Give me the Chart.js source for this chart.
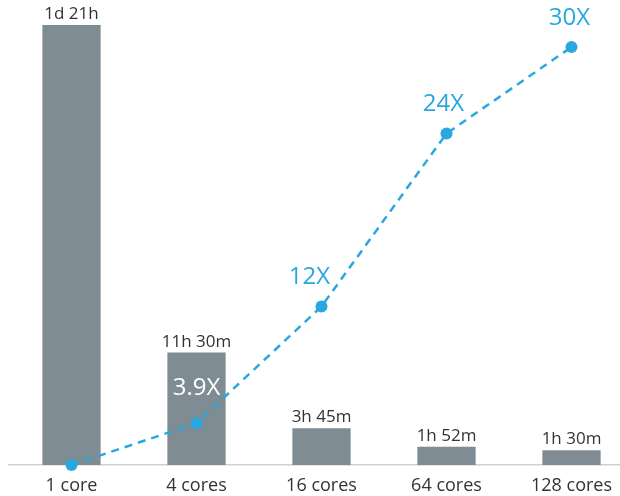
<!DOCTYPE html>
<html>
<head>
<meta charset="utf-8">
<script src="https://cdn.jsdelivr.net/npm/chart.js@4"></script>
<style>
  html, body { margin: 0; padding: 0; background: #fff; overflow: hidden; }
  #wrap { width: 640px; height: 496px; }
</style>
</head>
<body>
<div id="wrap"><canvas id="coresChart" width="640" height="496"></canvas></div>
<script>
// data
const cores = ['1 core', '4 cores', '16 cores', '64 cores', '128 cores'];
const runMinutes = [2700, 690, 225, 112, 90];
const runLabels = ['1d 21h', '11h 30m', '3h 45m', '1h 52m', '1h 30m'];
const speedup = [1, 3.9, 12, 24, 30];
const speedupLabels = ['', '3.9X', '12X', '24X', '30X'];

const BAR = '#7f8c93';
const BLUE = '#29a8df';
const FONT = '"Open Sans", "Noto Sans", sans-serif';

// value labels over bars and points
const labelPlugin = {
  id: 'labels',
  afterDatasetsDraw(chart) {
    const ctx = chart.ctx;
    ctx.save();
    ctx.textAlign = 'center';

    ctx.font = '17px ' + FONT;
    ctx.fillStyle = '#333';
    ctx.textBaseline = 'alphabetic';
    chart.getDatasetMeta(1).data.forEach((bar, i) => {
      ctx.fillText(runLabels[i], bar.x, bar.y - 6);
    });

    const shift = [0, 0, -12, -3, -2];
    ctx.font = '24px ' + FONT;
    ctx.textBaseline = 'middle';
    chart.getDatasetMeta(0).data.forEach((pt, i) => {
      if (!speedupLabels[i]) return;
      ctx.fillStyle = i === 1 ? '#fff' : BLUE;
      ctx.fillText(speedupLabels[i], pt.x + shift[i], pt.y - (i === 1 ? 35 : 29));
    });
    ctx.restore();
  }
};

new Chart(document.getElementById('coresChart'), {
  data: {
    labels: cores,
    datasets: [
      {
        type: 'line',
        data: speedup,
        yAxisID: 'y1',
        borderColor: BLUE,
        backgroundColor: BLUE,
        borderWidth: 2.5,
        borderDash: [8, 6],
        pointRadius: 6,
        pointBorderWidth: 0,
        pointBackgroundColor: BLUE,
        tension: 0,
        clip: false,
        order: 0
      },
      {
        type: 'bar',
        data: runMinutes,
        yAxisID: 'y',
        backgroundColor: BAR,
        barPercentage: 0.466,
        categoryPercentage: 1,
        order: 1
      }
    ]
  },
  options: {
    responsive: false,
    animation: false,
    layout: { padding: { left: 9, right: 5, top: 25, bottom: 0 } },
    plugins: { legend: { display: false }, tooltip: { enabled: false } },
    scales: {
      x: {
        grid: { display: false },
        border: { display: true, color: '#d0d0d0', width: 1.5 },
        ticks: { color: '#333', font: { family: FONT, size: 18 }, padding: 2 },
        afterFit: scale => { scale.height = 31; }
      },
      y: { display: false, min: 0, max: 2700 },
      y1: { display: false, min: 1, max: 31.53 }
    }
  },
  plugins: [labelPlugin]
});
</script>
</body>
</html>
